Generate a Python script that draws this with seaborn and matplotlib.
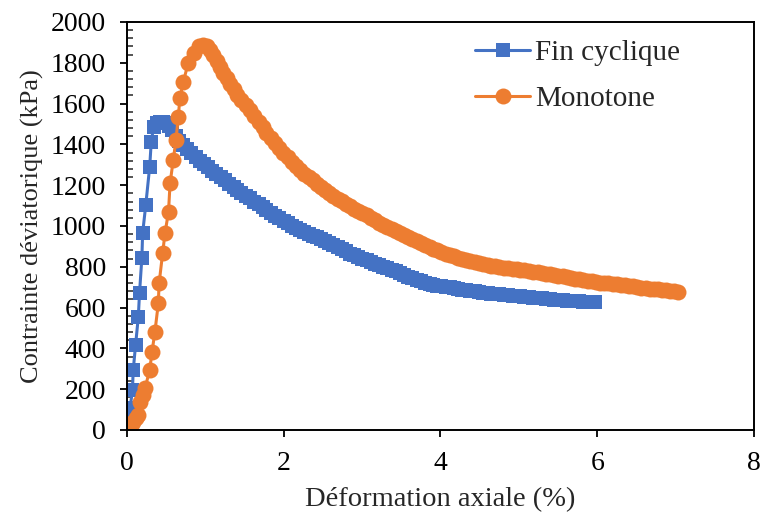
import pandas as pd
import matplotlib
matplotlib.use('Agg')
import matplotlib.pyplot as plt
from matplotlib.ticker import MultipleLocator
import seaborn as sns

# Fin cyclique (blue squares): strain (%) and deviatoric stress (kPa)
cyc_strain = [0.0, 0.02, 0.04, 0.07, 0.08, 0.11, 0.145, 0.16, 0.19, 0.2, 0.24, 0.29, 0.31, 0.34,
              0.38, 0.42, 0.46, 0.5, 0.54, 0.57,
              0.62, 0.67, 0.72, 0.77, 0.82, 0.88, 0.93, 0.98, 1.03, 1.09, 1.14, 1.2, 1.25, 1.3,
              1.36, 1.41, 1.46, 1.52, 1.57, 1.62, 1.68, 1.73, 1.78, 1.84, 1.89, 1.94, 2.0, 2.05,
              2.1, 2.16, 2.21, 2.26, 2.32, 2.37, 2.42, 2.48, 2.53, 2.58, 2.63, 2.69, 2.74, 2.79,
              2.84, 2.9, 2.95, 3.0, 3.06, 3.11, 3.16, 3.22, 3.27, 3.32, 3.38, 3.43, 3.48, 3.54,
              3.59, 3.64, 3.7, 3.75, 3.8, 3.86, 3.91, 3.96, 4.01, 4.07, 4.12, 4.17, 4.22, 4.28,
              4.33, 4.38, 4.44, 4.49, 4.54, 4.6, 4.65, 4.7, 4.75, 4.81, 4.86, 4.92, 4.97, 5.02,
              5.07, 5.13, 5.18, 5.24, 5.29, 5.34, 5.4, 5.45, 5.5, 5.56, 5.61, 5.66, 5.72, 5.77,
              5.82, 5.87, 5.92, 5.97]
cyc_stress = [0, 50, 108, 196, 294, 417, 555, 671, 843, 965, 1103, 1291, 1413, 1487,
              1505, 1511, 1508, 1503, 1490, 1470,
              1440, 1418, 1397, 1377, 1358, 1339, 1320, 1304, 1288, 1271, 1255, 1239, 1223, 1208,
              1193, 1178, 1163, 1149, 1135, 1120, 1106, 1092, 1078, 1064, 1051, 1038, 1026, 1014,
              1002, 991, 980, 970, 961, 952, 944, 934, 925, 915, 905, 895, 885, 875,
              865, 856, 848, 840, 832, 823, 815, 807, 800, 792, 785, 777, 770, 761,
              752, 743, 735, 728, 722, 717, 712, 708, 705, 702, 699, 695, 692, 688,
              685, 682, 679, 676, 673, 671, 669, 667, 665, 663, 661, 659, 658, 655,
              653, 651, 649, 647, 645, 643, 641, 639, 637, 635, 634, 632, 631, 630,
              629, 628, 627, 626]

# Monotone (orange circles)
mono_strain = [0.0, 0.02, 0.05, 0.08, 0.12, 0.145, 0.166, 0.2, 0.23, 0.29, 0.32, 0.357, 0.4,
               0.41, 0.455, 0.485, 0.53, 0.55, 0.59, 0.625, 0.655, 0.675, 0.72, 0.78, 0.85,
               0.92, 0.97,
               1.02, 1.06, 1.1, 1.15, 1.19, 1.23, 1.27, 1.32, 1.36, 1.41, 1.46, 1.52, 1.57, 1.62,
               1.68, 1.73, 1.78, 1.84, 1.89, 1.94, 1.99, 2.05, 2.1, 2.16, 2.21, 2.26, 2.32, 2.37,
               2.42, 2.48, 2.53, 2.58, 2.63, 2.69, 2.74, 2.79, 2.84, 2.9, 2.95, 3.0, 3.06, 3.11,
               3.16, 3.22, 3.27, 3.32, 3.38, 3.43, 3.48, 3.54, 3.59, 3.64, 3.7, 3.75, 3.8, 3.86,
               3.91, 3.96, 4.01, 4.07, 4.12, 4.17, 4.22, 4.28, 4.33, 4.38, 4.44, 4.49, 4.54, 4.6,
               4.65, 4.7, 4.75, 4.81, 4.86, 4.92, 4.97, 5.02, 5.07, 5.13, 5.18, 5.24, 5.29, 5.34,
               5.4, 5.45, 5.5, 5.56, 5.61, 5.66, 5.72, 5.77, 5.82, 5.88, 5.93, 5.98, 6.03, 6.09,
               6.14, 6.2, 6.25, 6.3, 6.35, 6.41, 6.46, 6.51, 6.56, 6.62, 6.67, 6.72, 6.78, 6.83,
               6.88, 6.93, 6.98, 7.03]
mono_stress = [0, 8, 20, 41, 60, 74, 139, 170, 204, 294, 384, 482, 621,
               719, 866, 964, 1070, 1209, 1323, 1421, 1536, 1626, 1708, 1797, 1846,
               1880, 1888,
               1880, 1862, 1840, 1810, 1778, 1752, 1725, 1697, 1670, 1644, 1618, 1593, 1568, 1539,
               1510, 1483, 1457, 1431, 1405, 1382, 1359, 1337, 1316, 1295, 1275, 1257, 1240, 1223,
               1206, 1190, 1175, 1161, 1147, 1134, 1121, 1108, 1096, 1085, 1074, 1063, 1052, 1041,
               1030, 1017, 1005, 995, 985, 977, 968, 956, 945, 935, 925, 915, 905, 896,
               888, 880, 873, 865, 858, 851, 845, 838, 832, 827, 822, 818, 814, 810,
               806, 802, 799, 796, 794, 791, 789, 786, 783, 779, 776, 773, 770, 766,
               763, 760, 757, 753, 750, 746, 742, 738, 735, 731, 728, 725, 722, 720,
               719, 717, 715, 712, 710, 707, 704, 701, 698, 695, 693, 691, 689, 686,
               684, 682, 680, 678]

labels = ['Fin cyclique', 'Monotone']
colors = ['#4472C4', '#ED7D31']

df_cyc = pd.DataFrame({'strain': cyc_strain, 'stress': cyc_stress})
df_mono = pd.DataFrame({'strain': mono_strain, 'stress': mono_stress})

sns.set_style('ticks')
plt.rcParams['font.family'] = ['Liberation Serif', 'DejaVu Serif']

fig = plt.figure(figsize=(7.63, 5.16), dpi=100)
ax = fig.add_axes([0.1664, 0.1667, 0.8218, 0.7907])

sns.lineplot(data=df_cyc, x='strain', y='stress', sort=False, ax=ax, color=colors[0],
             marker='s', markersize=10.5, markeredgewidth=0, linewidth=2.2, label=labels[0])
sns.lineplot(data=df_mono, x='strain', y='stress', sort=False, ax=ax, color=colors[1],
             marker='o', markersize=11.5, markeredgewidth=0, linewidth=2.2, label=labels[1])

ax.set_xlim(0, 8)
ax.set_ylim(0, 2000)
ax.xaxis.set_major_locator(MultipleLocator(2))
ax.yaxis.set_major_locator(MultipleLocator(200))
ax.yaxis.set_minor_locator(MultipleLocator(40))

for side in ['top', 'right', 'left', 'bottom']:
    ax.spines[side].set_visible(True)
    ax.spines[side].set_linewidth(1.4)
    ax.spines[side].set_color('black')

ax.tick_params(axis='both', which='major', direction='out', length=5, width=1.3,
               labelsize=20, colors='black', pad=10)
ax.tick_params(axis='y', which='minor', direction='in', length=4, width=1.1, left=True)
ax.tick_params(axis='x', which='minor', bottom=False)

ax.set_xlabel('Déformation axiale (%)', fontsize=20.5, labelpad=8)
ax.set_ylabel('Contrainte déviatorique (kPa)', fontsize=19, labelpad=5)

ax.legend(loc='center left', bbox_to_anchor=(0.555, 0.868), frameon=False, fontsize=21,
          handlelength=1.9, handletextpad=0.15, labelspacing=0.65, borderpad=0, borderaxespad=0)

fig.savefig('out.png', dpi=100)
